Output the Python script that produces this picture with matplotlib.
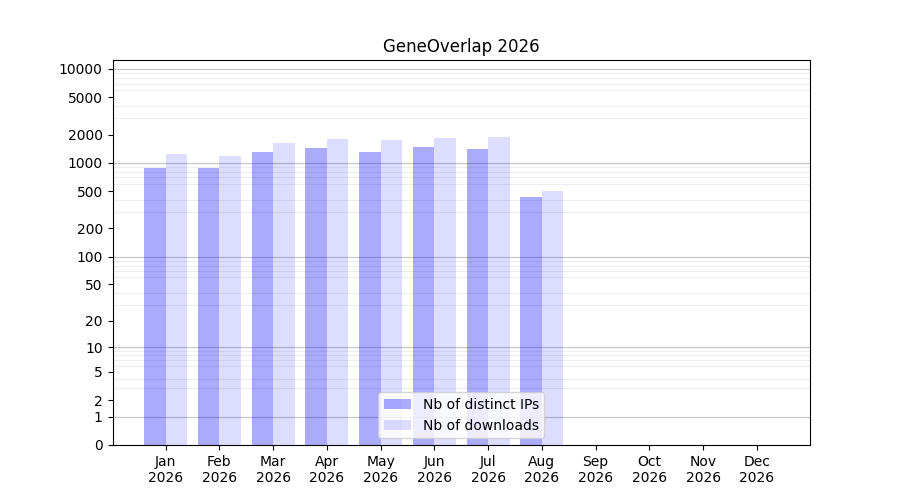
import numpy as np
import matplotlib
matplotlib.use('Agg')
import matplotlib.pyplot as plt
from matplotlib.ticker import FixedLocator, FixedFormatter

months = ['Jan', 'Feb', 'Mar', 'Apr', 'May', 'Jun', 'Jul', 'Aug', 'Sep', 'Oct', 'Nov', 'Dec']
year = 2026
distinct_ips = [890, 890, 1320, 1455, 1320, 1490, 1420, 438, 0, 0, 0, 0]
downloads = [1255, 1195, 1645, 1815, 1770, 1860, 1905, 506, 0, 0, 0, 0]

ytick_vals = [0, 1, 2, 5, 10, 20, 50, 100, 200, 500, 1000, 2000, 5000, 10000]


def fwd(y):
    return np.log10(1 + np.clip(y, 0, None))


def inv(y):
    return 10 ** y - 1


fig, ax = plt.subplots(figsize=(9, 5), dpi=100)
x = np.arange(len(months))
ax.bar(x - 0.2, distinct_ips, width=0.4, color='blue', alpha=0.333, label='Nb of distinct IPs')
ax.bar(x + 0.2, downloads, width=0.4, color='blue', alpha=0.133, label='Nb of downloads')

ax.set_yscale('function', functions=(fwd, inv))
ax.set_ylim(0, 12460)
ax.yaxis.set_major_locator(FixedLocator(ytick_vals))
ax.yaxis.set_major_formatter(FixedFormatter([str(v) for v in ytick_vals]))
minor = [m * 10 ** k for k in range(0, 4) for m in range(2, 10)]
ax.yaxis.set_minor_locator(FixedLocator(minor))
ax.tick_params(axis='y', which='minor', length=0)

# grid: decades darker, the rest light
ax.grid(False)
for v in [1, 10, 100, 1000, 10000]:
    ax.axhline(v, color='#c4c4c4', linewidth=0.8, zorder=0.5)
ax.grid(axis='y', which='minor', color='#eeeeee', linewidth=0.8)
ax.set_axisbelow(True)

ax.set_xticks(x)
ax.set_xticklabels([f'{m}\n{year}' for m in months])
ax.set_title(f'GeneOverlap {year}')
ax.legend(loc='lower center')

plt.savefig('out.png')
